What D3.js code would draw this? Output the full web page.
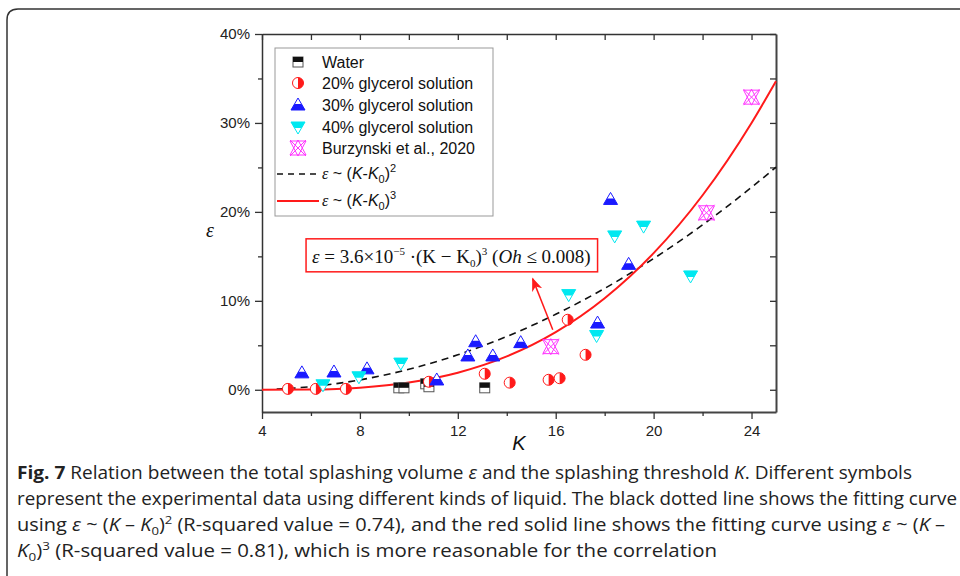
<!DOCTYPE html>
<html>
<head>
<meta charset="utf-8">
<script src="https://cdn.jsdelivr.net/npm/d3@7"></script>
<style>
  html, body { margin: 0; padding: 0; background: #fff; }
  svg { display: block; }
</style>
</head>
<body>
<div id="chart"></div>
<script>
// [K, epsilon %]
const water = [[9.59, 0.22], [9.80, 0.22], [10.69, 0.67], [10.82, 0.34], [13.10, 0.22]];
const gly20 = [[5.06, 0.1], [6.20, 0.1], [7.43, 0.1], [10.82, 0.9], [13.10, 1.8], [14.12, 0.8],
  [15.71, 1.12], [16.16, 1.3], [16.49, 7.87], [17.22, 3.93]];
const gly30 = [[5.63, 1.9], [6.94, 2.0], [8.29, 2.35], [11.14, 1.1], [12.41, 3.8], [12.73, 5.4],
  [13.43, 3.8], [14.57, 5.3], [17.71, 7.5], [18.24, 21.4], [18.98, 14.1]];
const gly40 = [[6.49, 0.56], [7.96, 1.46], [9.67, 3.0], [16.53, 10.7], [17.67, 6.1], [18.41, 17.3],
  [19.59, 18.4], [21.51, 12.8]];
const burz = [[15.80, 4.85], [22.16, 19.9], [24.0, 32.9]];

// fitted curves, sampled from the figure
const quadK = [4.6, 6, 8, 10, 12, 14, 16, 18, 20, 22, 24, 25];
const quadE = [0.07, 0.35, 1.11, 2.3, 3.93, 5.99, 8.48, 11.4, 14.75, 18.54, 22.76, 25.03];
const cubeK = [4, 6, 8, 10, 12, 14, 16, 18, 20, 22, 24, 25];
const cubeE = [0, 0.03, 0.24, 0.81, 1.92, 3.75, 6.48, 10.29, 15.36, 21.87, 30.0, 34.7];

const xTicks = [4, 8, 12, 16, 20, 24];
const xMinor = [6, 10, 14, 18, 22];
const yTicks = [0, 10, 20, 30, 40];
const yMinor = [5, 15, 25, 35];

const W = 960, H = 576;
const svg = d3.select('#chart').append('svg').attr('width', W).attr('height', H);

const x = d3.scaleLinear().domain([4, 25]).range([262, 776]);
const y = d3.scaleLinear().domain([-2.5, 40]).range([412, 34]);

const SANS = 'Liberation Sans, Arial, sans-serif';
const SERIF = 'Liberation Serif, Times New Roman, serif';
const AX = '#333';

// page frame with rounded corner
svg.append('path')
  .attr('d', 'M7,590 L7,20 Q7,9 18,9 L970,9')
  .attr('fill', 'none').attr('stroke', '#333').attr('stroke-width', 1.5);

// axes
function styleAxis(g, labels) {
  g.select('.domain').attr('stroke', AX).attr('stroke-width', 1.5);
  g.selectAll('.tick line').attr('stroke', AX).attr('stroke-width', 1.3);
  g.selectAll('.tick text').attr('fill', '#222').attr('font-size', '15px').attr('font-family', SANS);
  if (!labels) g.selectAll('.tick text').remove();
}

svg.append('g').attr('transform', `translate(0,${y.range()[0]})`)
  .call(d3.axisBottom(x).tickValues(xTicks).tickSize(7).tickSizeOuter(0).tickPadding(6).tickFormat(d3.format('d')))
  .call(g => styleAxis(g, true))
  .call(g => g.select('.domain').attr('stroke', '#444').attr('stroke-width', 2));
svg.append('g').attr('transform', `translate(0,${y.range()[0]})`)
  .call(d3.axisBottom(x).tickValues(xMinor).tickSize(4).tickSizeOuter(0))
  .call(g => styleAxis(g, false)).call(g => g.select('.domain').remove());

svg.append('g').attr('transform', `translate(0,${y.range()[1]})`)
  .call(d3.axisTop(x).tickValues(xTicks.concat(xMinor)).tickSize(-6).tickSizeOuter(0))
  .call(g => styleAxis(g, false));

svg.append('g').attr('transform', `translate(${x.range()[0]},0)`)
  .call(d3.axisLeft(y).tickValues(yTicks).tickSize(7).tickSizeOuter(0).tickPadding(5).tickFormat(d => d + '%'))
  .call(g => styleAxis(g, true));
svg.append('g').attr('transform', `translate(${x.range()[0]},0)`)
  .call(d3.axisLeft(y).tickValues(yMinor).tickSize(4).tickSizeOuter(0))
  .call(g => styleAxis(g, false)).call(g => g.select('.domain').remove());

svg.append('g').attr('transform', `translate(${x.range()[1]},0)`)
  .call(d3.axisRight(y).tickValues(yTicks.concat(yMinor)).tickSize(-6).tickSizeOuter(0))
  .call(g => styleAxis(g, false))
  .call(g => g.select('.domain').attr('stroke', '#444').attr('stroke-width', 2));

// axis titles
svg.append('text').attr('x', (x(4) + x(25)) / 2).attr('y', 450)
  .attr('text-anchor', 'middle').attr('font-family', SANS).attr('font-style', 'italic')
  .attr('font-size', '20px').attr('fill', '#111').text('K');
svg.append('text').attr('x', 210).attr('y', 237)
  .attr('text-anchor', 'middle').attr('font-family', SERIF).attr('font-style', 'italic')
  .attr('font-size', '20px').attr('fill', '#111').text('ε');

// fit curves
const line = d3.line().x(d => x(d[0])).y(d => y(d[1])).curve(d3.curveMonotoneX);
svg.append('path').datum(quadK.map((k, i) => [k, quadE[i]]))
  .attr('d', line).attr('fill', 'none').attr('stroke', '#111').attr('stroke-width', 1.6)
  .attr('stroke-dasharray', '7,5');
svg.append('path').datum(cubeK.map((k, i) => [k, cubeE[i]]))
  .attr('d', line).attr('fill', 'none').attr('stroke', '#ff1a1a').attr('stroke-width', 2);

// markers
function marker(g, type) {
  if (type === 'water') {
    g.append('rect').attr('x', -5).attr('y', -5).attr('width', 10).attr('height', 10)
      .attr('fill', '#fff').attr('stroke', '#555').attr('stroke-width', 1);
    g.append('rect').attr('x', -5).attr('y', -5).attr('width', 10).attr('height', 5).attr('fill', '#111');
  } else if (type === 'g20') {
    g.append('circle').attr('r', 5.5).attr('fill', '#fff').attr('stroke', '#ff1a1a').attr('stroke-width', 1);
    g.append('path').attr('d', 'M0,-5.5 A5.5,5.5 0 0 1 0,5.5 Z').attr('fill', '#ff1a1a');
  } else if (type === 'g30') {
    g.append('path').attr('d', 'M0,-7 L7,5 L-7,5 Z').attr('fill', '#fff').attr('stroke', '#1a1aff').attr('stroke-width', 1);
    g.append('path').attr('d', 'M-3.5,-1 L3.5,-1 L7,5 L-7,5 Z').attr('fill', '#1a1aff');
  } else if (type === 'g40') {
    g.append('path').attr('d', 'M-7,-5 L7,-5 L0,7 Z').attr('fill', '#fff').attr('stroke', '#00e8f0').attr('stroke-width', 1);
    g.append('path').attr('d', 'M-7,-5 L7,-5 L3.5,1 L-3.5,1 Z').attr('fill', '#00e8f0');
  } else if (type === 'burz') {
    g.append('path')
      .attr('d', 'M-8,-7 L8,-7 L0,8 Z M-8,7 L8,7 L0,-8 Z M-8,-8 L8,8 M8,-8 L-8,8')
      .attr('fill', 'none').attr('stroke', '#ff33ff').attr('stroke-width', 1);
  }
}

const series = [
  { key: 'water', label: 'Water', rows: water },
  { key: 'g20', label: '20% glycerol solution', rows: gly20 },
  { key: 'g30', label: '30% glycerol solution', rows: gly30 },
  { key: 'g40', label: '40% glycerol solution', rows: gly40 },
  { key: 'burz', label: 'Burzynski et al., 2020', rows: burz },
];

series.forEach(s => {
  svg.append('g').selectAll('g').data(s.rows).join('g')
    .attr('transform', d => `translate(${x(d[0])},${y(d[1])})`)
    .each(function () { marker(d3.select(this), s.key); });
});

// annotation box + arrow
const box = { k0: 5.8, k1: 17.71, e0: 16.97, e1: 13.26 };
svg.append('rect')
  .attr('x', x(box.k0)).attr('y', y(box.e0))
  .attr('width', x(box.k1) - x(box.k0)).attr('height', y(box.e1) - y(box.e0))
  .attr('fill', '#fff').attr('stroke', '#ff1a1a').attr('stroke-width', 1.5);
const ann = svg.append('text').attr('x', x(box.k0) + 6).attr('y', y(box.e1) - 9)
  .attr('font-family', SERIF).attr('font-size', '19px').attr('fill', '#111');
ann.append('tspan').attr('font-style', 'italic').text('ε');
ann.append('tspan').text(' = 3.6×10');
ann.append('tspan').attr('font-size', '11px').attr('dy', -8).text('−5');
ann.append('tspan').attr('dy', 8).text(' ·(K − K');
ann.append('tspan').attr('font-size', '11px').attr('dy', 4).text('0');
ann.append('tspan').attr('dy', -4).text(')');
ann.append('tspan').attr('font-size', '11px').attr('dy', -8).text('3');
ann.append('tspan').attr('dy', 8).text(' (');
ann.append('tspan').attr('font-style', 'italic').text('Oh');
ann.append('tspan').text(' ≤ 0.008)');

const arrowTail = [15.88, 6.74], arrowHead = [15.06, 12.47];
svg.append('defs').append('marker').attr('id', 'ah')
  .attr('viewBox', '0 0 10 10').attr('refX', 9).attr('refY', 5)
  .attr('markerWidth', 9).attr('markerHeight', 9).attr('orient', 'auto')
  .append('path').attr('d', 'M0,1 L10,5 L0,9 L3,5 Z').attr('fill', '#ff1a1a');
svg.append('line')
  .attr('x1', x(arrowTail[0])).attr('y1', y(arrowTail[1]))
  .attr('x2', x(arrowHead[0])).attr('y2', y(arrowHead[1]))
  .attr('stroke', '#ff1a1a').attr('stroke-width', 1.5).attr('marker-end', 'url(#ah)');

// legend
const lg = svg.append('g');
lg.append('rect').attr('x', 275).attr('y', 48).attr('width', 218).attr('height', 168)
  .attr('fill', '#fff').attr('stroke', '#999').attr('stroke-width', 1);
const rowY = [62, 83, 105, 127, 148];
series.forEach((s, i) => {
  const g = lg.append('g').attr('transform', `translate(298,${rowY[i]})`);
  marker(g, s.key);
  lg.append('text').attr('x', 322).attr('y', rowY[i] + 5.5)
    .attr('font-family', SANS).attr('font-size', '16px').attr('fill', '#111').text(s.label);
});
const fitRows = [
  { y: 174, dash: '6,5', color: '#111', w: 1.6, pow: '2' },
  { y: 201, dash: null, color: '#ff1a1a', w: 2, pow: '3' },
];
fitRows.forEach(r => {
  lg.append('line').attr('x1', 277).attr('x2', 319).attr('y1', r.y).attr('y2', r.y)
    .attr('stroke', r.color).attr('stroke-width', r.w).attr('stroke-dasharray', r.dash);
  const t = lg.append('text').attr('x', 322).attr('y', r.y + 5)
    .attr('font-family', SANS).attr('font-size', '16px').attr('fill', '#111');
  t.append('tspan').attr('font-family', SERIF).attr('font-style', 'italic').text('ε');
  t.append('tspan').text(' ~ (');
  t.append('tspan').attr('font-style', 'italic').text('K');
  t.append('tspan').text('-');
  t.append('tspan').attr('font-style', 'italic').text('K');
  t.append('tspan').attr('font-size', '11px').attr('dy', 4).text('0');
  t.append('tspan').attr('dy', -4).text(')');
  t.append('tspan').attr('font-size', '11px').attr('dy', -7).text(r.pow);
});

// caption
const CAP = 'Open Sans, Noto Sans, sans-serif';
const capLines = [
  [['Fig. 7', 'b'], [' Relation between the total splashing volume '], ['ε', 'i'], [' and the splashing threshold '], ['K', 'i'], ['. Different symbols']],
  [['represent the experimental data using different kinds of liquid. The black dotted line shows the fitting curve']],
  [['using '], ['ε', 'i'], [' ~ ('], ['K', 'i'], [' – '], ['K', 'i'], ['0', 'sub'], [')'], ['2', 'sup'], [' (R-squared value = 0.74), and the red solid line shows the fitting curve using '], ['ε', 'i'], [' ~ ('], ['K', 'i'], [' –']],
  [['K', 'i'], ['0', 'sub'], [')'], ['3', 'sup'], [' (R-squared value = 0.81), which is more reasonable for the correlation']],
];
const capY = [479, 505, 531, 557];
const capW = [895, 940, 928, 700];
capLines.forEach((parts, i) => {
  const t = svg.append('text').attr('x', 17).attr('y', capY[i])
    .attr('font-family', CAP).attr('font-size', '17.5px').attr('fill', '#222')
    .attr('textLength', capW[i]).attr('lengthAdjust', 'spacingAndGlyphs');
  let shift = 0;
  parts.forEach(([s, st]) => {
    const sp = t.append('tspan').text(s);
    let want = 0;
    if (st === 'b') sp.attr('font-weight', 'bold');
    if (st === 'i') sp.attr('font-style', 'italic');
    if (st === 'sub') { sp.attr('font-size', '11.5px'); want = 4; }
    if (st === 'sup') { sp.attr('font-size', '11.5px'); want = -7; }
    if (want !== shift) { sp.attr('dy', want - shift); shift = want; }
  });
});
</script>
</body>
</html>
